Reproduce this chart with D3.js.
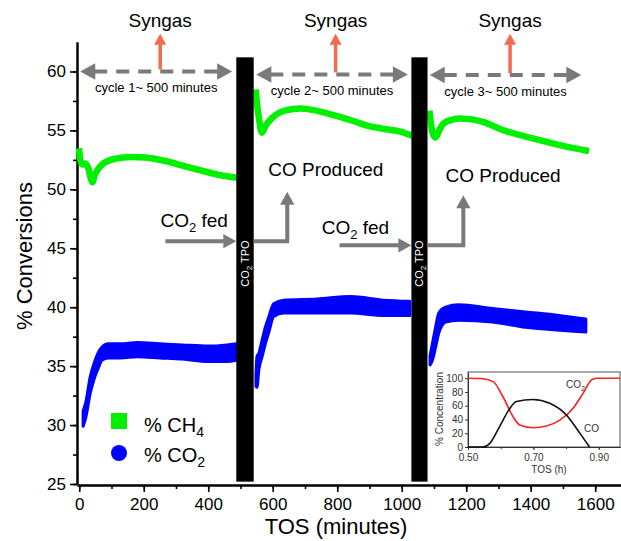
<!DOCTYPE html>
<html>
<head>
<meta charset="utf-8">
<script src="https://cdn.jsdelivr.net/npm/d3@7"></script>
<style>
  body { margin: 0; background: #fff; }
  svg { display: block; font-family: "Liberation Sans", Arial, sans-serif; }
</style>
</head>
<body>
<div id="chart"></div>
<script>
////////////////////////////////////////////////////////////////////////
// Data

// % CH4 conversion, one array per cycle: [TOS (min), value]
let ch4Cycle1 = [
  [0, 53.2], [3, 52.5], [10, 52.1], [18, 52.2], [28, 51.8], [36, 50.9], [41, 50.6],
  [48, 51.2], [58, 51.7], [75, 52.2], [112, 52.6], [158, 52.75], [205, 52.7],
  [267, 52.4], [329, 51.95], [391, 51.5], [438, 51.2], [487, 51.0]
];
let ch4Cycle2 = [
  [548, 58.2], [551, 57.3], [558, 55.9], [566, 54.8], [578, 55.4], [600, 56.1],
  [640, 56.7], [686, 56.85], [730, 56.7], [789, 56.3], [850, 55.8], [893, 55.4],
  [950, 55.1], [996, 54.9], [1028, 54.6]
];
let ch4Cycle3 = [
  [1087, 56.4], [1092, 55.3], [1098, 54.6], [1105, 54.4], [1118, 55.1],
  [1130, 55.6], [1155, 55.9], [1183, 56.0], [1255, 55.7], [1307, 55.1],
  [1410, 54.3], [1514, 53.6], [1571, 53.3]
];

// % CO2 conversion scatter band: [TOS (min), lower edge, upper edge]
let co2Cycle1 = [
  [12, 29.9, 31.2], [20, 30.6, 31.9], [34, 32.7, 34.1], [47, 34.0, 35.3],
  [60, 34.9, 36.2], [70, 35.5, 36.6], [90, 35.7, 36.9], [127, 35.7, 36.9],
  [180, 35.8, 37.0], [250, 35.7, 36.9], [320, 35.6, 36.8], [400, 35.4, 36.7],
  [458, 35.4, 36.8], [487, 35.5, 36.9]
];
let co2Cycle2 = [
  [548, 33.3, 34.3], [551, 33.2, 35.8], [557, 34.7, 36.1], [567, 35.8, 37.2],
  [577, 36.9, 38.3], [588, 37.9, 39.2], [603, 39.2, 40.3], [634, 39.5, 40.6],
  [738, 39.5, 40.7], [841, 39.5, 40.9], [944, 39.3, 40.6], [1025, 39.3, 40.5]
];
let co2Cycle3 = [
  [1088, 35.1, 35.9], [1095, 35.5, 36.9], [1105, 36.6, 38.3], [1115, 37.8, 39.5],
  [1136, 38.75, 40.0], [1177, 38.9, 40.2], [1281, 38.75, 39.9],
  [1384, 38.3, 39.6], [1488, 38.05, 39.3], [1571, 37.9, 39.0]
];

// CO2 TPO periods (TOS min) and their vertical extent (% scale)
let tpoStart = [487, 1030];
let tpoEnd = [541, 1080];
let tpoRange = [25.2, 61.2];

// cycle arrows
let cycleLabels = ["cycle 1~ 500 minutes", "cycle 2~ 500 minutes", "cycle 3~ 500 minutes"];
let cycleFrom = [3, 549, 1087];
let cycleTo = [474, 1019, 1557];
let cycleLevel = [60, 59.75, 59.7];
let syngasAt = [251, 795, 1336];

// axis ticks
let xTicks = [0, 200, 400, 600, 800, 1000, 1200, 1400, 1600];
let xMinor = d3.range(0, 1700, 100);
let yTicks = [25, 30, 35, 40, 45, 50, 55, 60];
let yMinor = d3.range(25, 62.5, 2.5);

// inset: temperature programmed oxidation, [TOS (h), %]
let insetCO2 = [
  [0.5, 100], [0.54, 99.5], [0.577, 95], [0.607, 73], [0.638, 44], [0.658, 32],
  [0.699, 28], [0.74, 30.5], [0.781, 39], [0.821, 56], [0.852, 78], [0.878, 97.5],
  [0.893, 100], [0.965, 100]
];
let insetCO = [
  [0.5, 0], [0.546, 0], [0.566, 5], [0.597, 30], [0.628, 56], [0.648, 66],
  [0.699, 69], [0.75, 63.5], [0.801, 46.5], [0.832, 27], [0.857, 10], [0.872, 0]
];
let insetXTicks = [0.5, 0.7, 0.9];
let insetXMinor = [0.5, 0.6, 0.7, 0.8, 0.9];
let insetYTicks = [0, 20, 40, 60, 80, 100];

////////////////////////////////////////////////////////////////////////
// Layout

let width = 621, height = 541;
let green = "#00f000", blue = "#0000ff", grey = "#7a7a7a", orange = "#f26a4f";

let svg = d3.select("#chart").append("svg")
  .attr("width", width).attr("height", height);

let xScale = d3.scaleLinear().domain([-7, 1680]).range([77, 621]);
let yScale = d3.scaleLinear().domain([25, 62.5]).range([484, 42]);

// axes
let xAxis = d3.axisBottom(xScale).tickValues(xTicks).tickSize(7).tickSizeOuter(0)
  .tickPadding(6).tickFormat(d3.format("d"));
let xAxisMinor = d3.axisBottom(xScale).tickValues(xMinor).tickSize(4).tickSizeOuter(0).tickFormat("");
let yAxis = d3.axisLeft(yScale).tickValues(yTicks).tickSize(7).tickSizeOuter(0).tickPadding(4);
let yAxisMinor = d3.axisLeft(yScale).tickValues(yMinor).tickSize(4).tickSizeOuter(0).tickFormat("");

function styleAxis(g, fs) {
  g.select(".domain").attr("stroke", "#000").attr("stroke-width", 2);
  g.selectAll(".tick line").attr("stroke", "#000").attr("stroke-width", 1.6);
  g.selectAll(".tick text").attr("fill", "#000").style("font-size", fs + "px")
    .style("font-family", "'Liberation Sans', Arial, sans-serif");
}

svg.append("g").attr("transform", "translate(0,485)").call(xAxisMinor).call(styleAxis, 17);
svg.append("g").attr("transform", "translate(0,485)").call(xAxis).call(styleAxis, 17);
svg.append("g").attr("transform", "translate(77,0)").call(yAxisMinor).call(styleAxis, 17);
svg.append("g").attr("transform", "translate(77,0)").call(yAxis).call(styleAxis, 17);

svg.append("text")
  .attr("transform", "translate(32,256) rotate(-90)")
  .attr("text-anchor", "middle")
  .style("font-size", "22px")
  .text("% Conversions");

svg.append("text")
  .attr("x", 336).attr("y", 534)
  .attr("text-anchor", "middle")
  .style("font-size", "22px")
  .text("TOS (minutes)");

// data series
let ch4Line = d3.line()
  .x(d => xScale(d[0]))
  .y(d => yScale(d[1]))
  .curve(d3.curveMonotoneX);

let co2Band = d3.area()
  .x(d => xScale(d[0]))
  .y0(d => yScale(d[1]))
  .y1(d => yScale(d[2]))
  .curve(d3.curveMonotoneX);

[co2Cycle1, co2Cycle2, co2Cycle3].forEach(c => {
  svg.append("path").datum(c)
    .attr("d", co2Band)
    .attr("fill", blue)
    .attr("stroke", blue)
    .attr("stroke-width", 3)
    .attr("stroke-linejoin", "round");
});

[ch4Cycle1, ch4Cycle2, ch4Cycle3].forEach(c => {
  svg.append("path").datum(c)
    .attr("d", ch4Line)
    .attr("fill", "none")
    .attr("stroke", green)
    .attr("stroke-width", 6.5)
    .attr("stroke-linecap", "square")
    .attr("stroke-linejoin", "round");
});

// CO2 TPO bars
svg.selectAll(".tpo").data(tpoStart).enter().append("rect")
  .attr("class", "tpo")
  .attr("x", d => xScale(d))
  .attr("y", yScale(tpoRange[1]))
  .attr("width", (d, i) => xScale(tpoEnd[i]) - xScale(d))
  .attr("height", yScale(tpoRange[0]) - yScale(tpoRange[1]))
  .attr("fill", "#000");

tpoStart.forEach((d, i) => {
  let cx = (xScale(d) + xScale(tpoEnd[i])) / 2 + 4;
  let t = svg.append("text")
    .attr("transform", "translate(" + cx + "," + yScale(43.7) + ") rotate(-90)")
    .attr("text-anchor", "middle")
    .attr("fill", "#fff")
    .style("font-size", "11px");
  t.append("tspan").text("CO");
  t.append("tspan").attr("dy", 3).style("font-size", "8px").text("2");
  t.append("tspan").attr("dy", -3).text(" TPO");
});

// arrows helpers
function arrowHead(px, py, dir, size, colour) {
  // dir: "left", "right", "up"
  let w = size * 0.55, l = size;
  let pts;
  if (dir === "right") pts = [[px, py], [px - l, py - w], [px - l, py + w]];
  else if (dir === "left") pts = [[px, py], [px + l, py - w], [px + l, py + w]];
  else pts = [[px, py], [px - w, py + l], [px + w, py + l]];
  svg.append("polygon").attr("points", pts.map(p => p.join(",")).join(" ")).attr("fill", colour);
}

// cycle dashed arrows + syngas
cycleFrom.forEach((d, i) => {
  let yy = yScale(cycleLevel[i]);
  let x0 = xScale(d), x1 = xScale(cycleTo[i]);
  svg.append("line")
    .attr("x1", x0 + 14).attr("x2", x1 - 14)
    .attr("y1", yy).attr("y2", yy)
    .attr("stroke", grey).attr("stroke-width", 4)
    .attr("stroke-dasharray", "13,9");
  arrowHead(x0, yy, "left", 15, grey);
  arrowHead(x1, yy, "right", 15, grey);

  svg.append("text")
    .attr("x", (x0 + x1) / 2).attr("y", yy + 21)
    .attr("text-anchor", "middle")
    .style("font-size", "13px")
    .text(cycleLabels[i]);

  let sx = xScale(syngasAt[i]);
  svg.append("line")
    .attr("x1", sx).attr("x2", sx)
    .attr("y1", yy - 2).attr("y2", yScale(62.3))
    .attr("stroke", orange).attr("stroke-width", 3.5);
  arrowHead(sx, yScale(63.2), "up", 11, orange);

  svg.append("text")
    .attr("x", sx).attr("y", 27)
    .attr("text-anchor", "middle")
    .style("font-size", "19px")
    .text("Syngas");
});

// CO2 fed -> CO produced
let fedFrom = [267, 807];
let fedLevel = [45.6, 45.25];
let producedAt = [645, 1191];
let producedTip = [49.8, 49.5];
let fedLabelAt = [[252, 46.8], [752, 46.2]];
let producedLabelAt = [[586, 51.1], [1136, 50.6]];

tpoStart.forEach((d, i) => {
  let yy = yScale(fedLevel[i]);
  svg.append("line")
    .attr("x1", xScale(fedFrom[i])).attr("x2", xScale(d) - 10)
    .attr("y1", yy).attr("y2", yy)
    .attr("stroke", grey).attr("stroke-width", 4);
  arrowHead(xScale(d), yy, "right", 13, grey);

  let px = xScale(producedAt[i]);
  svg.append("path")
    .attr("d", "M" + xScale(tpoEnd[i]) + "," + yy + " H" + px + " V" + (yScale(producedTip[i]) + 10))
    .attr("fill", "none")
    .attr("stroke", grey).attr("stroke-width", 4);
  arrowHead(px, yScale(producedTip[i]), "up", 13, grey);

  let f = svg.append("text")
    .attr("x", xScale(fedLabelAt[i][0])).attr("y", yScale(fedLabelAt[i][1]))
    .style("font-size", "19px");
  f.append("tspan").text("CO");
  f.append("tspan").attr("dy", 5).style("font-size", "13px").text("2");
  f.append("tspan").attr("dy", -5).text(" fed");

  svg.append("text")
    .attr("x", xScale(producedLabelAt[i][0])).attr("y", yScale(producedLabelAt[i][1]))
    .style("font-size", "19px")
    .text("CO Produced");
});

// legend
let legend = svg.append("g");
legend.append("rect").attr("x", 111).attr("y", 413).attr("width", 16).attr("height", 16).attr("fill", green);
legend.append("circle").attr("cx", 119).attr("cy", 453).attr("r", 8).attr("fill", blue);
let l1 = legend.append("text").attr("x", 144).attr("y", 432).style("font-size", "20px");
l1.append("tspan").text("% CH");
l1.append("tspan").attr("dy", 5).style("font-size", "14px").text("4");
let l2 = legend.append("text").attr("x", 144).attr("y", 462).style("font-size", "20px");
l2.append("tspan").text("% CO");
l2.append("tspan").attr("dy", 5).style("font-size", "14px").text("2");

////////////////////////////////////////////////////////////////////////
// Inset

let inX = d3.scaleLinear().domain([0.5, 0.965]).range([468, 620]);
let inY = d3.scaleLinear().domain([0, 109]).range([447, 372]);

let inset = svg.append("g");
inset.append("rect")
  .attr("x", inX(0.5)).attr("y", inY(109))
  .attr("width", inX(0.965) - inX(0.5)).attr("height", inY(0) - inY(109))
  .attr("fill", "#fff").attr("stroke", "#555").attr("stroke-width", 1);

let inXAxis = d3.axisBottom(inX).tickValues(insetXTicks).tickSize(3).tickSizeOuter(0)
  .tickFormat(d3.format(".2f")).tickPadding(4);
let inXMinor = d3.axisBottom(inX).tickValues(insetXMinor).tickSize(2).tickSizeOuter(0).tickFormat("");
let inYAxis = d3.axisLeft(inY).tickValues(insetYTicks).tickSize(3).tickSizeOuter(0).tickPadding(2);

function styleInset(g) {
  g.select(".domain").attr("stroke", "#333").attr("stroke-width", 1);
  g.selectAll(".tick line").attr("stroke", "#333");
  g.selectAll(".tick text").attr("fill", "#333").style("font-size", "10px")
    .style("font-family", "'Liberation Sans', Arial, sans-serif");
}
inset.append("g").attr("transform", "translate(0,447)").call(inXMinor).call(styleInset);
inset.append("g").attr("transform", "translate(0,447)").call(inXAxis).call(styleInset);
inset.append("g").attr("transform", "translate(468,0)").call(inYAxis).call(styleInset);

let inLine = d3.line().x(d => inX(d[0])).y(d => inY(d[1])).curve(d3.curveMonotoneX);
inset.append("path").datum(insetCO2).attr("d", inLine)
  .attr("fill", "none").attr("stroke", "#ff2020").attr("stroke-width", 1.6);
inset.append("path").datum(insetCO).attr("d", inLine)
  .attr("fill", "none").attr("stroke", "#111").attr("stroke-width", 1.6);

let c2 = inset.append("text").attr("x", 566).attr("y", 388).attr("fill", "#333").style("font-size", "10px");
c2.append("tspan").text("CO");
c2.append("tspan").attr("dy", 3).style("font-size", "7px").text("2");
inset.append("text").attr("x", 584).attr("y", 432).attr("fill", "#333").style("font-size", "10px").text("CO");

inset.append("text")
  .attr("transform", "translate(443,409) rotate(-90)")
  .attr("text-anchor", "middle")
  .attr("fill", "#333")
  .style("font-size", "10px")
  .text("% Concentration");
inset.append("text")
  .attr("x", 549).attr("y", 473)
  .attr("text-anchor", "middle")
  .attr("fill", "#333")
  .style("font-size", "10px")
  .text("TOS (h)");
</script>
</body>
</html>
